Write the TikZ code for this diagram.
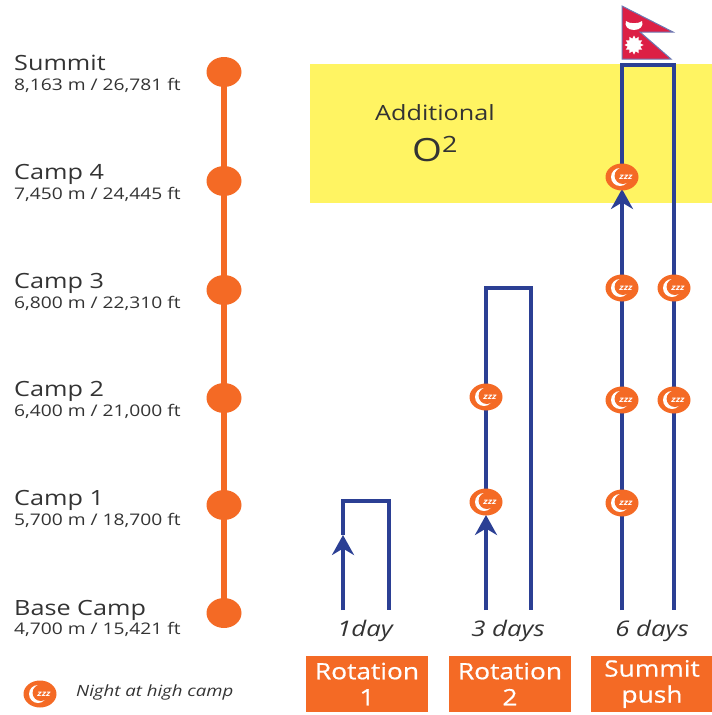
\documentclass[tikz,border=0pt]{standalone}
\usepackage{fontspec}
\setmainfont[FakeStretch=1.2]{Open Sans}
\newfontfamily\heavyfont[FakeStretch=1.17,FakeBold=0.6]{Open Sans}
\usetikzlibrary{arrows.meta,shapes.geometric}
\definecolor{campfill}{HTML}{F46A25}
\definecolor{routeblue}{HTML}{2B3F94}
\definecolor{zoneyellow}{HTML}{FFF462}
\definecolor{flagred}{HTML}{DC1F45}
\definecolor{textgray}{HTML}{333333}
\tikzset{
    campdot/.style={ellipse,fill=campfill,minimum width=35,minimum height=30,inner sep=0},
    night/.style={ellipse,fill=campfill,minimum width=33,minimum height=27,inner sep=0,text=white,
        path picture={
            \fill[white] ([xshift=-2]path picture bounding box.center) circle (9);
            \fill[campfill] ([xshift=0.8,yshift=1.2]path picture bounding box.center) circle (8.2);
            \node[text=white,font=\fontsize{8}{8}\selectfont\itshape\bfseries] at ([xshift=4,yshift=0]path picture bounding box.center) {zzz};
        }},
    route/.style={routeblue,line width=4},
    uparrow/.style={route,-{Stealth[length=20,width=22]}},
    campname/.style={anchor=base west,inner sep=0,text=textgray,font=\fontsize{21}{21}\selectfont},
    camphigh/.style={anchor=base west,inner sep=0,text=textgray,font=\fontsize{16}{16}\selectfont},
    days/.style={inner sep=0,text=textgray,font=\fontsize{21.5}{21.5}\selectfont\itshape},
    phase/.style={fill=campfill,text=white,minimum width=122,minimum height=56,inner sep=0,align=center,
        font=\fontsize{22.5}{26}\heavyfont},
}
\begin{document}
\begin{tikzpicture}[x=1pt,y=-1pt]
    \useasboundingbox (0,0) rectangle (712,715);
    \fill[zoneyellow] (310,64) rectangle (712,203);
    \node[inner sep=0,text=textgray,font=\fontsize{21}{21}\selectfont] (additional) at (435,113) {Additional};
    \node[inner sep=0,text=textgray,font=\fontsize{32}{32}\selectfont] (oxygen) at (435,149) {O\textsuperscript{2}};

    \node[campdot] (summit) at (224,72) {};
    \node[campdot] (camp4) at (224,181) {};
    \node[campdot] (camp3) at (224,290) {};
    \node[campdot] (camp2) at (224,398) {};
    \node[campdot] (camp1) at (224,505) {};
    \node[campdot] (base) at (224,613) {};
    \draw[campfill,line width=6] (base) -- (summit);

    \node[campname] (summitname) at (14,70) {Summit};
    \node[camphigh] (summithigh) at (14,90) {8,163 m / 26,781 ft};
    \node[campname] (camp4name) at (14,179) {Camp 4};
    \node[camphigh] (camp4high) at (14,199) {7,450 m / 24,445 ft};
    \node[campname] (camp3name) at (14,288) {Camp 3};
    \node[camphigh] (camp3high) at (14,308) {6,800 m / 22,310 ft};
    \node[campname] (camp2name) at (14,396) {Camp 2};
    \node[camphigh] (camp2high) at (14,416) {6,400 m / 21,000 ft};
    \node[campname] (camp1name) at (14,505) {Camp 1};
    \node[camphigh] (camp1high) at (14,525) {5,700 m / 18,700 ft};
    \node[campname] (basename) at (14,615) {Base Camp};
    \node[camphigh] (basehigh) at (14,634) {4,700 m / 15,421 ft};

    \coordinate (rotaup) at (343,610);
    \coordinate (rotatip) at (343,535);
    \coordinate (rotatop) at (343,501);
    \coordinate (rotaend) at (389,610);
    \draw[uparrow] (rotaup) -- (rotatip);
    \draw[route] (rotatip) -- (rotatop) -| (rotaend);

    \coordinate (rotbup) at (486,610);
    \coordinate (rotbtip) at (486,515);
    \coordinate (rotbtop) at (486,288);
    \coordinate (rotbend) at (531,610);
    \draw[uparrow] (rotbup) -- (rotbtip);
    \draw[route] (rotbtip) -- (rotbtop) -| (rotbend);

    \coordinate (pushup) at (622,610);
    \coordinate (pushtip) at (622,189);
    \coordinate (pushtop) at (622,65);
    \coordinate (pushend) at (674,610);
    \draw[uparrow] (pushup) -- (pushtip);
    \draw[route] (pushtip) -- (pushtop) -| (pushend);

    \node[night] (rotbone) at (486,502) {};
    \node[night] (rotbtwo) at (486,397) {};
    \node[night] (pushone) at (622,503) {};
    \node[night] (pushtwo) at (622,400) {};
    \node[night] (pushthree) at (622,288) {};
    \node[night] (pushfour) at (622,177) {};
    \node[night] (backthree) at (674,288) {};
    \node[night] (backtwo) at (674,400) {};
    \node[night] (legend) at (40,694) {};
    \node[anchor=west,inner sep=0,text=textgray,font=\fontsize{15.5}{15.5}\selectfont\itshape] (legendtext) at (76,692) {Night at high camp};

    \node[days] (daysa) at (365,631) {1day};
    \node[days] (daysb) at (508,631) {3 days};
    \node[days] (daysc) at (652,631) {6 days};
    \node[phase] (phasea) at (367,684) {Rotation\\1};
    \node[phase] (phaseb) at (510,684) {Rotation\\2};
    \node[phase] (phasec) at (652,684) {Summit\\push};

    \draw[fill=flagred,draw=routeblue!70,line width=1] (622,6) -- (673,32) -- (640,32) -- (671,59) -- (622,59) -- cycle;
    \node[star,star points=12,star point ratio=1.45,fill=white,minimum size=19,inner sep=0] (flagsun) at (634,45) {};
    \fill[white] (626,21) .. controls (629,24) and (639,24) .. (642,21) .. controls (644,26) and (640,30) .. (634,30) .. controls (628,30) and (624,26) .. (626,21);
\end{tikzpicture}
\end{document}
